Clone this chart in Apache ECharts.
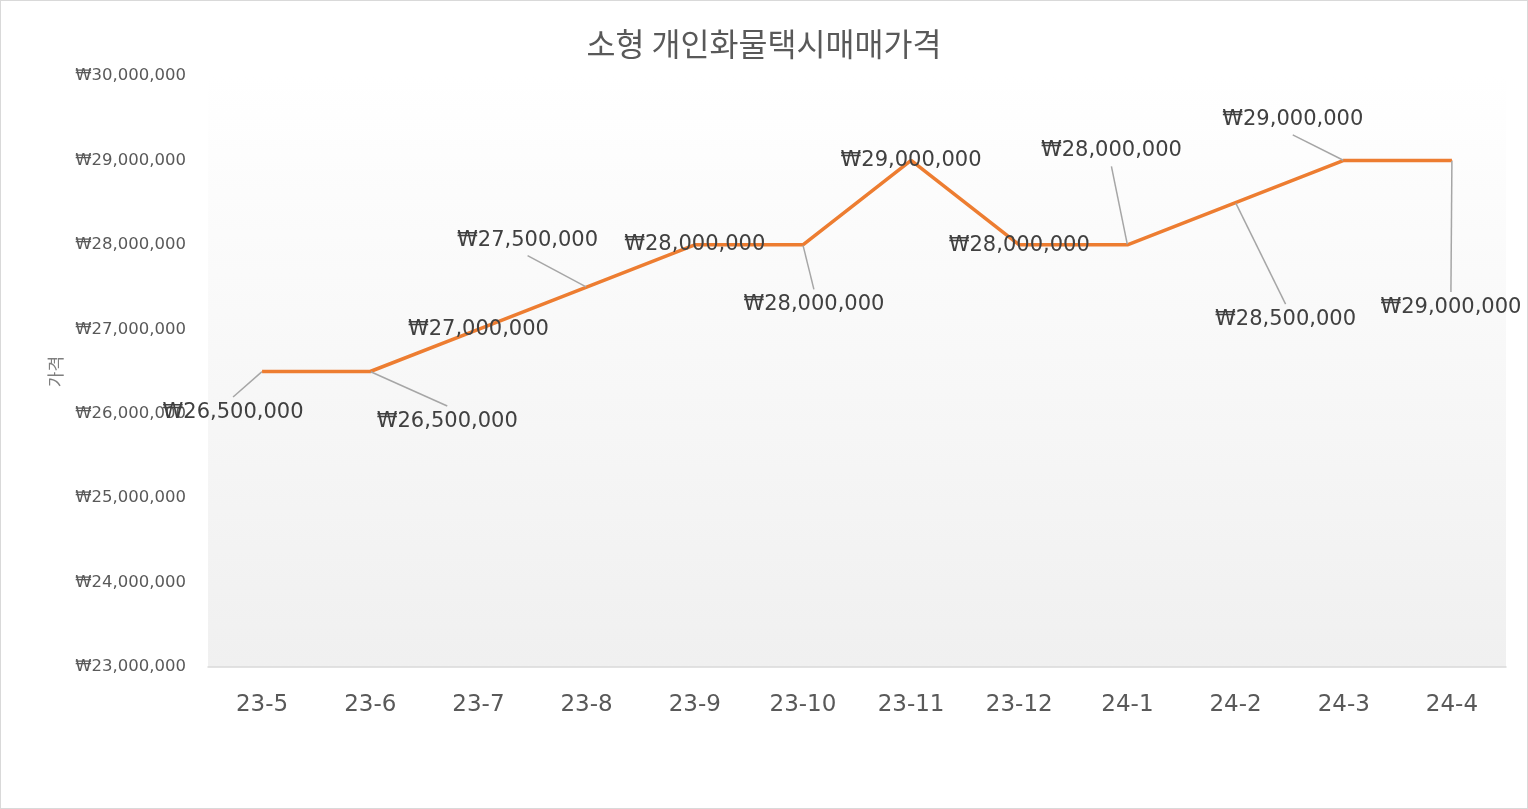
<!DOCTYPE html>
<html>
<head>
<meta charset="utf-8">
<script src="https://cdn.jsdelivr.net/npm/echarts@6/dist/echarts.min.js"></script>
<style>
    html, body { margin: 0; padding: 0; background: #fff; }
    #chart { width: 1528px; height: 809px; box-sizing: border-box; border: 1px solid #d9d9d9; }
</style>
</head>
<body>
<div id="chart"></div>
<script>
// 카테고리(월)
const months = ['23-5', '23-6', '23-7', '23-8', '23-9', '23-10', '23-11', '23-12', '24-1', '24-2', '24-3', '24-4'];
// 매매가격
const prices = [26500000, 26500000, 27000000, 27500000, 28000000, 28000000, 29000000, 28000000, 28000000, 28500000, 29000000, 29000000];
// 라벨 위치 이동 (dx, dy)
const labelShift = [[-29, 41], [77, 50], [0, 0], [-59, -47], [0, 0], [11, 60], [0, 0], [0, 1], [-16, -94], [50, 117], [-51, -41], [-1, 147]];

const fontKR = '"Noto Sans CJK KR", "Noto Sans", sans-serif';
const fontNum = '"DejaVu Sans", "Noto Sans CJK KR", sans-serif';
const won = v => '₩' + Number(v).toLocaleString('en-US');

let chart = echarts.init(document.getElementById('chart'));
let option = {
    backgroundColor: '#fff',
    textStyle: { fontFamily: fontKR },
    title: {
        text: '소형 개인화물택시매매가격',
        left: 'center',
        top: 22,
        textStyle: { fontFamily: fontKR, fontSize: 31.5, fontWeight: 'normal', color: '#595959' }
    },
    grid: {
        left: 207,
        right: 21,
        top: 75,
        bottom: 141,
        show: true,
        borderWidth: 0,
        backgroundColor: new echarts.graphic.LinearGradient(0, 0, 0, 1, [
            { offset: 0, color: '#ffffff' },
            { offset: 1, color: '#f0f0f0' }
        ])
    },
    xAxis: {
        type: 'category',
        data: months,
        boundaryGap: true,
        axisLine: { lineStyle: { color: '#d9d9d9', width: 1.5 } },
        axisTick: { show: false },
        axisLabel: { margin: 27, fontSize: 23, color: '#595959', fontFamily: fontNum }
    },
    yAxis: {
        type: 'value',
        min: 23000000,
        max: 30000000,
        interval: 1000000,
        name: '가격',
        nameLocation: 'middle',
        nameRotate: 90,
        nameGap: 142,
        nameTextStyle: { fontSize: 17, color: '#7f7f7f', fontFamily: fontKR },
        axisLine: { show: false },
        axisTick: { show: false },
        splitLine: { show: false },
        axisLabel: { margin: 22, fontSize: 16.5, color: '#595959', fontFamily: fontNum, formatter: won }
    },
    series: [{
        type: 'line',
        data: prices.map((v, i) => ({
            value: v,
            labelLine: { show: labelShift[i][0] !== 0 || Math.abs(labelShift[i][1]) > 5 }
        })),
        symbol: 'circle',
        symbolSize: 1,
        showSymbol: true,
        itemStyle: { color: '#ED7D31' },
        lineStyle: { color: '#ED7D31', width: 3.5 },
        label: {
            show: true,
            position: 'inside',
            formatter: p => won(p.value),
            fontSize: 21,
            color: '#404040',
            fontFamily: fontNum,
            // 투명 배경 + 가로 여백 -> 지시선이 위/아래 중앙에 붙도록
            backgroundColor: 'rgba(255,255,255,0)',
            padding: [5, 110]
        },
        labelLine: {
            show: true,
            lineStyle: { color: '#a6a6a6', width: 1.5 }
        },
        labelLayout: p => ({ dx: labelShift[p.dataIndex][0], dy: labelShift[p.dataIndex][1] }),
        animation: false
    }]
};
chart.setOption(option);
</script>
</body>
</html>
